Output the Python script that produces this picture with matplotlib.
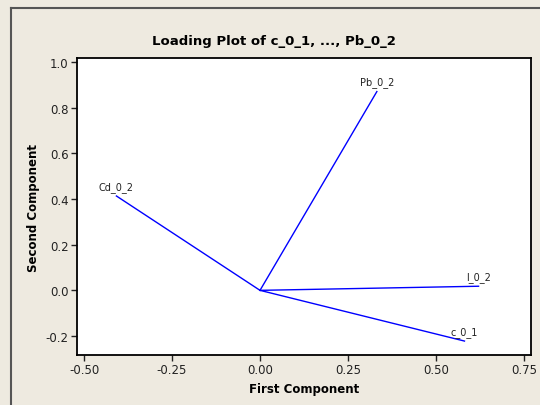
import numpy as np
import matplotlib.pyplot as plt
from matplotlib.lines import Line2D

# loadings (first, second component)
variables = ['c_0_1', 'l_0_2', 'Cd_0_2', 'Pb_0_2']
first_comp = [0.581, 0.621, -0.408, 0.332]
second_comp = [-0.222, 0.018, 0.413, 0.870]

x_ticks = [-0.50, -0.25, 0.00, 0.25, 0.50, 0.75]
y_ticks = [-0.2, 0.0, 0.2, 0.4, 0.6, 0.8, 1.0]

bg = '#EEEAE0'

fig = plt.figure(figsize=(5.4, 4.06), dpi=100, facecolor=bg)
# axes box in pixels: left 77, right 531, top 59, bottom 356
W, H = 540, 406
ax = fig.add_axes([77 / W, 1 - 356 / H, (531 - 77) / W, (356 - 59) / H])
ax.set_facecolor('white')

for x, y, name in zip(first_comp, second_comp, variables):
    ax.plot([0, x], [0, y], color='#0000FF', lw=1.0)
    ax.annotate(name, (x, y), xytext=(0, 3), textcoords='offset points',
                ha='center', va='bottom', fontsize=7, color='#222222')

ax.set_xlim(-0.52, 0.77)
ax.set_ylim(-0.283, 1.017)
ax.set_xticks(x_ticks)
ax.set_xticklabels(['%.2f' % v for v in x_ticks])
ax.set_yticks(y_ticks)
ax.set_yticklabels(['%.1f' % v for v in y_ticks])
ax.tick_params(direction='out', length=4, width=1, labelsize=8.5,
               colors='#222222', pad=2)

for s in ax.spines.values():
    s.set_linewidth(1.3)
    s.set_color('black')

ax.set_xlabel('First Component', fontsize=8.5, fontweight='bold', labelpad=4)
ax.set_ylabel('Second Component', fontsize=8.5, fontweight='bold', labelpad=4)
fig.text(274 / W, 1 - 42 / H, 'Loading Plot of c_0_1, ..., Pb_0_2',
         ha='center', va='center', fontsize=9.5, fontweight='bold')

# outer frame (top and left edges)
fig.add_artist(Line2D([11 / W, 1], [1 - 9 / H, 1 - 9 / H], transform=fig.transFigure,
                      color='#555555', lw=1.5))
fig.add_artist(Line2D([11 / W, 11 / W], [0, 1 - 9 / H], transform=fig.transFigure,
                      color='#555555', lw=1.5))

fig.savefig('out.png', dpi=100, facecolor=bg)
